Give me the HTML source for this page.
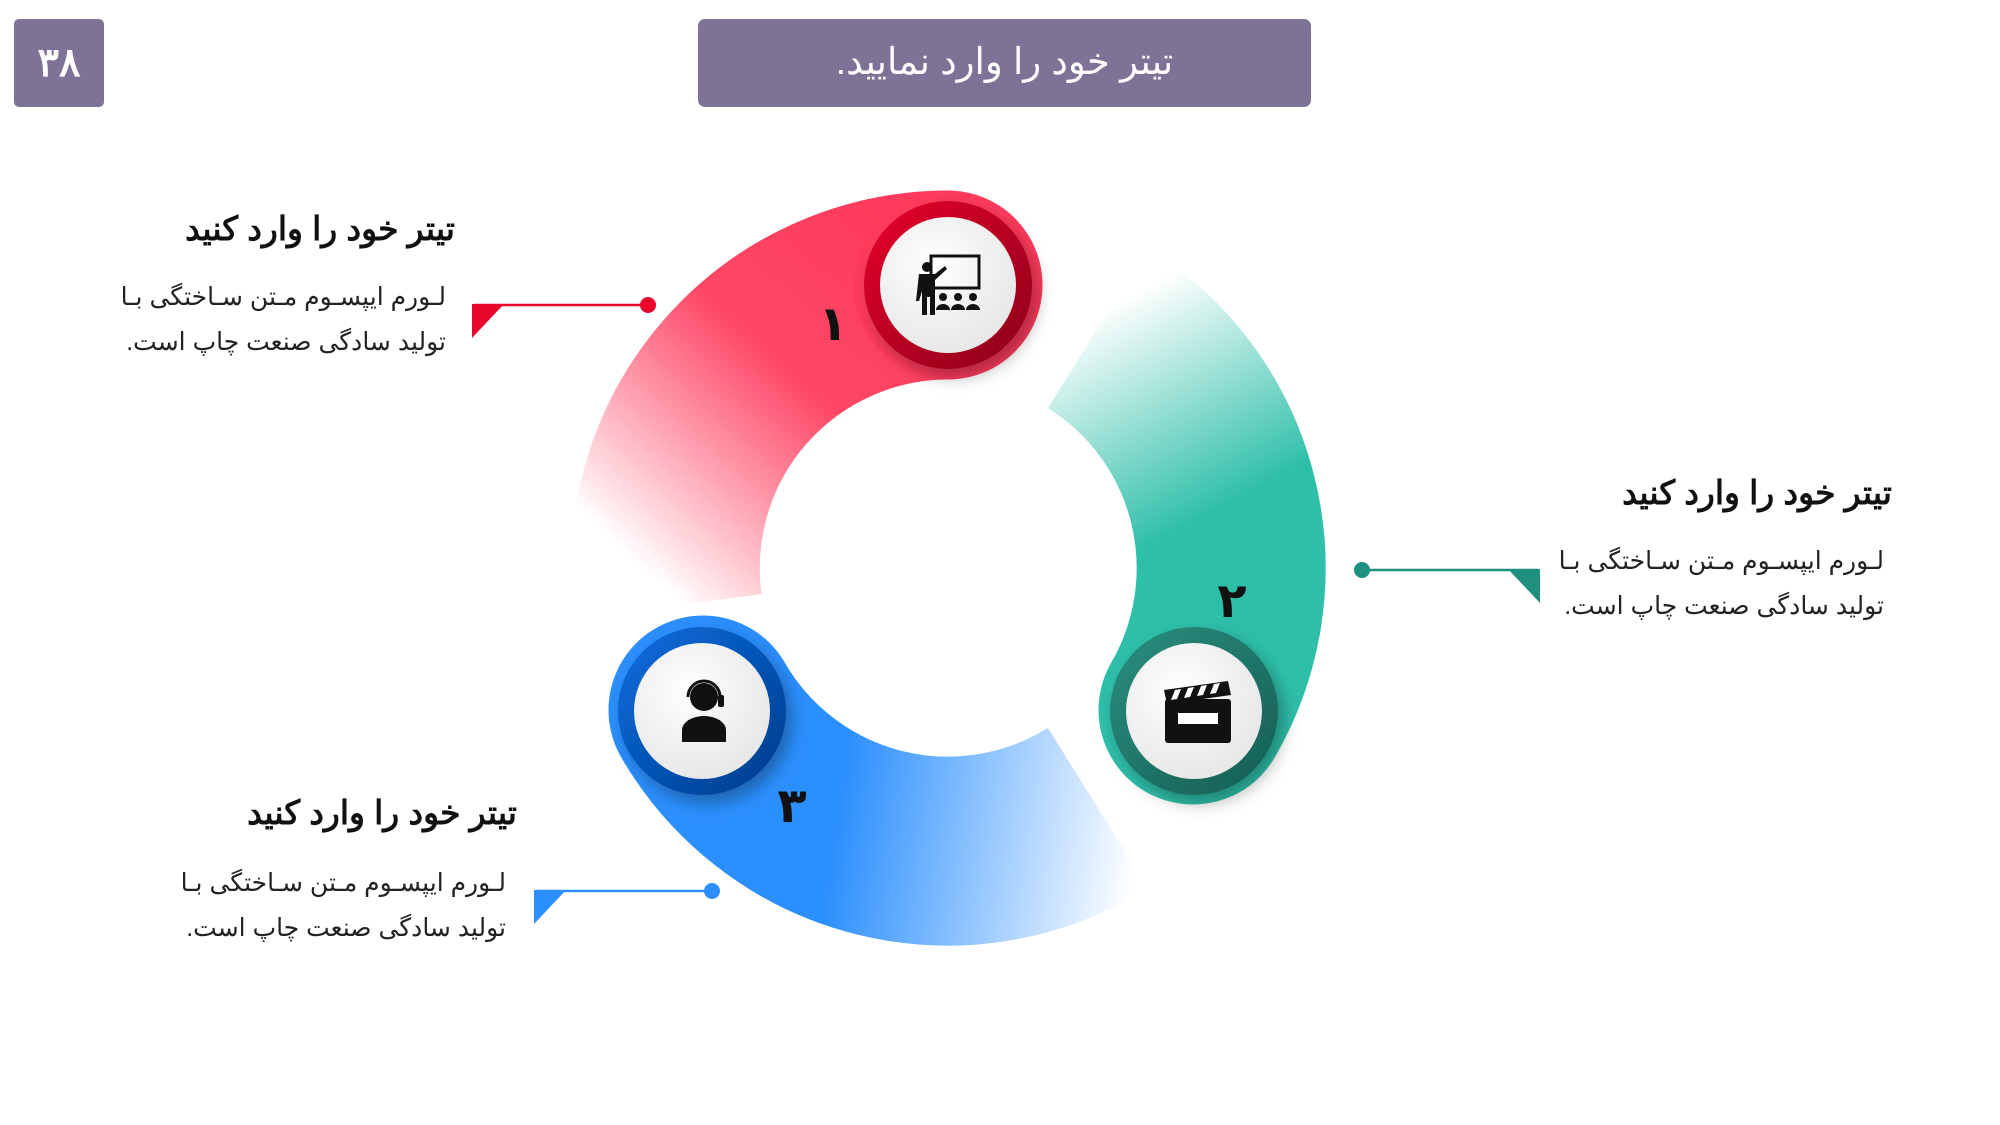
<!DOCTYPE html>
<html><head><meta charset="utf-8"><style>
html,body{margin:0;padding:0;background:#fff;}
body{width:2000px;height:1125px;position:relative;overflow:hidden;font-family:"Liberation Sans","Noto Sans CJK SC",sans-serif;}
.abs{position:absolute;}
.t{direction:rtl;text-align:right;color:#111;white-space:nowrap;}
.title{font-size:33px;font-weight:bold;}
.body{font-size:25px;line-height:45px;color:#222;}
</style></head><body>
<div class="abs" style="left:14px;top:19px;width:90px;height:88px;background:#7e7397;border-radius:5px;color:#fff;font-size:40px;font-weight:bold;text-align:center;line-height:88px;">۳۸</div>
<div class="abs" style="left:698px;top:19px;width:613px;height:88px;background:#7e7397;border-radius:7px;color:#fff;font-size:37px;text-align:center;line-height:86px;direction:rtl;">تیتر خود را وارد نمایید.</div>

<svg class="abs" style="left:0;top:0" width="2000" height="1125">
<defs>
<linearGradient id="gr" gradientUnits="userSpaceOnUse" x1="900" y1="230" x2="600" y2="560"><stop offset="0" stop-color="#fe3b5c"/><stop offset="0.4" stop-color="#fe4766"/><stop offset="0.95" stop-color="#fe3b5c" stop-opacity="0"/></linearGradient>
<linearGradient id="gt" gradientUnits="userSpaceOnUse" x1="1260" y1="640" x2="1080" y2="300"><stop offset="0" stop-color="#2ebfa9"/><stop offset="0.35" stop-color="#2ebfa9"/><stop offset="0.95" stop-color="#2ebfa9" stop-opacity="0"/></linearGradient>
<linearGradient id="gb" gradientUnits="userSpaceOnUse" x1="700" y1="790" x2="1160" y2="860"><stop offset="0" stop-color="#2b8ffd"/><stop offset="0.3" stop-color="#2b8ffd"/><stop offset="0.95" stop-color="#2b8ffd" stop-opacity="0"/></linearGradient>
<radialGradient id="wd" cx="0.4" cy="0.35" r="0.7"><stop offset="0" stop-color="#ffffff"/><stop offset="1" stop-color="#e6e6e6"/></radialGradient>
<linearGradient id="rr" x1="0" y1="0" x2="1" y2="1"><stop offset="0" stop-color="#e8062c"/><stop offset="1" stop-color="#8a0019"/></linearGradient>
<linearGradient id="tr" x1="0" y1="0" x2="1" y2="1"><stop offset="0" stop-color="#2a8f80"/><stop offset="1" stop-color="#155c52"/></linearGradient>
<linearGradient id="br" x1="0" y1="0" x2="1" y2="1"><stop offset="0" stop-color="#0a6fe0"/><stop offset="1" stop-color="#003a8a"/></linearGradient>
<filter id="sh" x="-30%" y="-30%" width="160%" height="160%"><feDropShadow dx="6" dy="8" stdDeviation="8" flood-color="#000" flood-opacity="0.3"/></filter>
</defs>
<path d="M948 285 A283 283 0 0 0 668 607" fill="none" stroke="url(#gr)" stroke-width="189"/>
<circle cx="948" cy="285" r="94.5" fill="#fe3b5c"/>
<path d="M1193 710 A283 283 0 0 0 1098 328" fill="none" stroke="url(#gt)" stroke-width="189"/>
<circle cx="1193" cy="710" r="94.5" fill="#2ebfa9"/>
<path d="M703 710 A283 283 0 0 0 1098 808" fill="none" stroke="url(#gb)" stroke-width="189"/>
<circle cx="703" cy="710" r="94.5" fill="#2b8ffd"/>

<g filter="url(#sh)"><circle cx="948" cy="285" r="84" fill="url(#rr)"/><circle cx="948" cy="285" r="68" fill="url(#wd)"/></g>
<g filter="url(#sh)"><circle cx="1194" cy="711" r="84" fill="url(#tr)"/><circle cx="1194" cy="711" r="68" fill="url(#wd)"/></g>
<g filter="url(#sh)"><circle cx="702" cy="711" r="84" fill="url(#br)"/><circle cx="702" cy="711" r="68" fill="url(#wd)"/></g>

<g fill="#111">
<rect x="931" y="256" width="48" height="32" fill="none" stroke="#111" stroke-width="3"/>
<circle cx="927" cy="267" r="5"/>
<path d="M919 274 h16 l10-8 2 3 -12 11 v35 h-5 v-18 h-3 v18 h-5 v-24 l-3 10 h-3 z"/>
<circle cx="943" cy="297" r="4"/><path d="M936 310 a7 6 0 0 1 14 0z"/>
<circle cx="958" cy="297" r="4"/><path d="M951 310 a7 6 0 0 1 14 0z"/>
<circle cx="973" cy="297" r="4"/><path d="M966 310 a7 6 0 0 1 14 0z"/>
</g>
<g fill="#111">
<path d="M1164 690 l64 -9 3 14 -64 9z"/>
<rect x="1165" y="699" width="66" height="44" rx="3"/>
<rect x="1178" y="713" width="40" height="11" fill="#fff"/>
</g>
<g fill="#fff"><path d="M1175 690 l6 -1 -4 10 -6 1z M1188 688 l6 -1 -4 10 -6 1z M1201 686 l6 -1 -4 10 -6 1z M1214 684 l6 -1 -4 10 -6 1z"/></g>
<g fill="#111">
<circle cx="704" cy="697" r="14"/>
<path d="M682 742 v-12 a22 14 0 0 1 44 0 v12z"/>
<path d="M688 697 a16 16 0 0 1 32 0" fill="none" stroke="#111" stroke-width="3"/>
<rect x="718" y="695" width="6" height="12" rx="2"/>
</g>

<text x="833" y="340" font-size="48" font-weight="bold" fill="#111" font-family="Liberation Sans,DejaVu Sans,sans-serif" text-anchor="middle">۱</text>
<text x="1232" y="617" font-size="48" font-weight="bold" fill="#111" font-family="Liberation Sans,DejaVu Sans,sans-serif" text-anchor="middle">۲</text>
<text x="792" y="822" font-size="48" font-weight="bold" fill="#111" font-family="Liberation Sans,DejaVu Sans,sans-serif" text-anchor="middle">۳</text>

<line x1="474" y1="305" x2="647" y2="305" stroke="#e8062c" stroke-width="2.5"/>
<circle cx="648" cy="305" r="8" fill="#e8062c"/>
<path d="M472 304 h32 l-32 34z" fill="#e8062c"/>
<line x1="1362" y1="570" x2="1538" y2="570" stroke="#1f8f80" stroke-width="2.5"/>
<circle cx="1362" cy="570" r="8" fill="#1f8f80"/>
<path d="M1508 569 h32 v34z" fill="#1f8f80"/>
<line x1="536" y1="891" x2="711" y2="891" stroke="#2b8ffd" stroke-width="2.5"/>
<circle cx="712" cy="891" r="8" fill="#2b8ffd"/>
<path d="M534 890 h32 l-32 34z" fill="#2b8ffd"/>
</svg>

<div class="abs t title" style="right:1545px;top:209px;">تیتر خود را وارد کنید</div>
<div class="abs t body" style="right:1554px;top:275px;">لـورم ایپسـوم مـتن سـاختگی بـا<br>تولید سادگی صنعت چاپ است.</div>

<div class="abs t title" style="right:108px;top:473px;">تیتر خود را وارد کنید</div>
<div class="abs t body" style="right:116px;top:539px;">لـورم ایپسـوم مـتن سـاختگی بـا<br>تولید سادگی صنعت چاپ است.</div>

<div class="abs t title" style="right:1483px;top:793px;">تیتر خود را وارد کنید</div>
<div class="abs t body" style="right:1494px;top:861px;">لـورم ایپسـوم مـتن سـاختگی بـا<br>تولید سادگی صنعت چاپ است.</div>
</body></html>
